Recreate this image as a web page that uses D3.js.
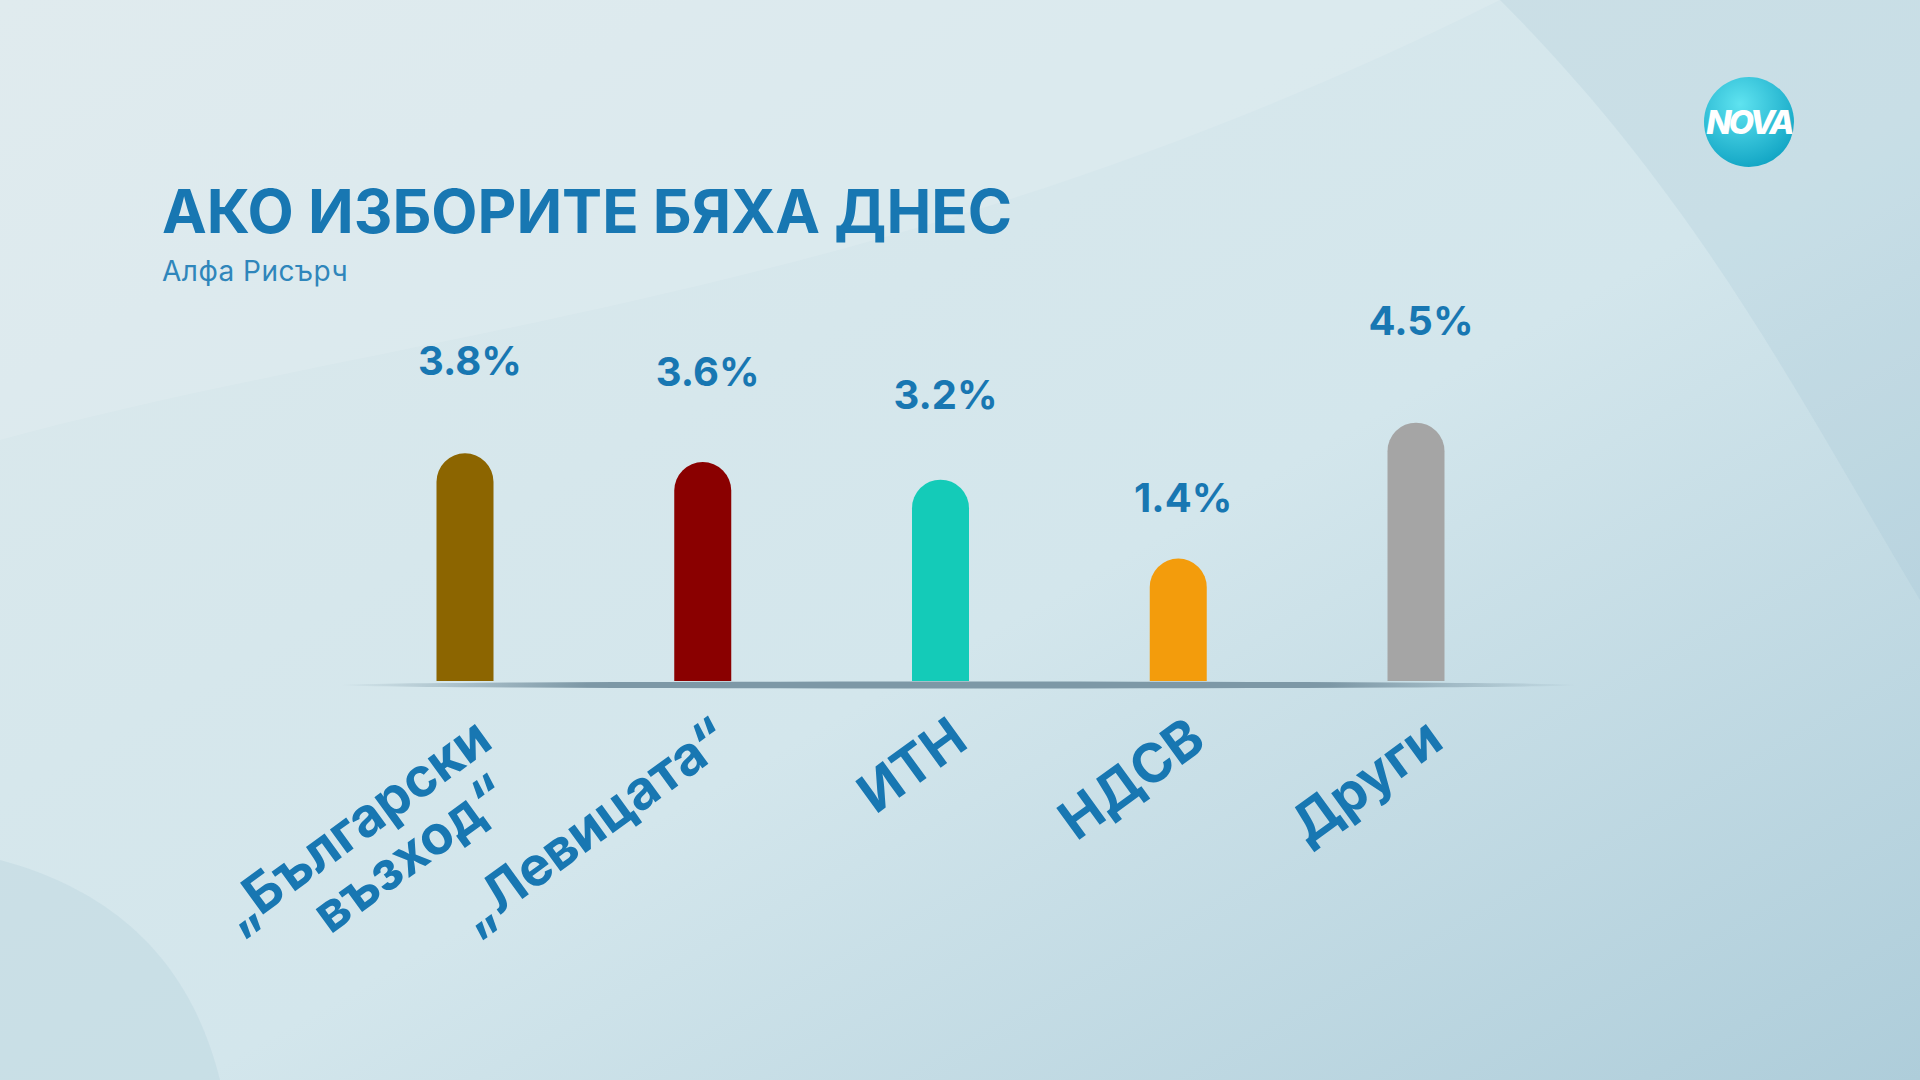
<!DOCTYPE html>
<html><head><meta charset="utf-8">
<script src="https://cdn.jsdelivr.net/npm/d3@7"></script>
<style>body{margin:0;overflow:hidden}svg{display:block}</style>
</head><body>
<svg id="chart" width="1920" height="1080"></svg>
<script>
// data
var parties = [['„Български', 'възход“'], ['„Левицата“'], ['ИТН'], ['НДСВ'], ['Други']];
var values = [3.8, 3.6, 3.2, 1.4, 4.5];
var colors = ['#8c6500', '#8a0000', '#14cbb8', '#f39c0c', '#a5a5a5'];

var svg = d3.select('#chart');
var defs = svg.append('defs');
var bg = defs.append('linearGradient').attr('id', 'bg').attr('x1', 0).attr('y1', 0).attr('x2', 1).attr('y2', 1);
bg.append('stop').attr('offset', 0).attr('stop-color', '#dce9ec');
bg.append('stop').attr('offset', 0.55).attr('stop-color', '#d3e6ec');
bg.append('stop').attr('offset', 1).attr('stop-color', '#aecdda');
svg.append('rect').attr('width', 1920).attr('height', 1080).attr('fill', 'url(#bg)');
// soft swooshes
svg.append('path').attr('d', 'M0,440 C400,330 900,300 1500,0 L0,0 Z').attr('fill', '#ffffff').attr('opacity', 0.12);
svg.append('path').attr('d', 'M0,860 C150,900 200,1000 220,1080 L0,1080 Z').attr('fill', '#9fc3d2').attr('opacity', 0.2);
svg.append('path').attr('d', 'M1920,0 L1920,600 C1800,400 1700,200 1500,0 Z').attr('fill', '#8fb8cc').attr('opacity', 0.15);

var blue = '#1877b2';
svg.append('text').attr('x', 162).attr('y', 233).attr('fill', blue)
  .style('font', '700 60px Inter, "Noto Sans", sans-serif').style('letter-spacing', '0px')
  .text('АКО ИЗБОРИТЕ БЯХА ДНЕС');
svg.append('text').attr('x', 162).attr('y', 281).attr('fill', '#2f86bb')
  .style('font', '400 28px Inter, "Noto Sans", sans-serif').style('letter-spacing', '0.5px').text('Алфа Рисърч');

// logo
var lg = defs.append('radialGradient').attr('id', 'logo').attr('cx', 0.4).attr('cy', 0.3).attr('r', 0.8);
lg.append('stop').attr('offset', 0).attr('stop-color', '#5fe3f0');
lg.append('stop').attr('offset', 1).attr('stop-color', '#0a9fc0');
svg.append('circle').attr('cx', 1749).attr('cy', 122).attr('r', 45).attr('fill', 'url(#logo)');
svg.append('text').attr('x', 1749).attr('y', 134).attr('text-anchor', 'middle').attr('fill', '#fff')
  .style('font', 'italic 800 33px Inter, sans-serif').style('letter-spacing', '-3px').text('NOVA');

var base = 681, k = 1920 / 1568;
var x = d3.scalePoint().domain(d3.range(values.length)).range([465, 1416]);
var y = d3.scaleLinear().domain([1.4, 4.5]).range([base - 100 * k, base - 211 * k]);
var ly = d3.scaleLinear().domain([1.4, 4.5]).range([407 * k, 262 * k]);
var bw = 57;

// baseline
var bl = defs.append('linearGradient').attr('id', 'bl');
bl.append('stop').attr('offset', 0).attr('stop-color', '#7d98a6').attr('stop-opacity', 0);
bl.append('stop').attr('offset', 0.2).attr('stop-color', '#7d98a6');
bl.append('stop').attr('offset', 0.8).attr('stop-color', '#7d98a6');
bl.append('stop').attr('offset', 1).attr('stop-color', '#7d98a6').attr('stop-opacity', 0);
svg.append('ellipse').attr('cx', 783 * k).attr('cy', base + 4).attr('rx', 506 * k).attr('ry', 3.5).attr('fill', 'url(#bl)');

var g = svg.append('g');
g.selectAll('path.bar').data(values).enter().append('path')
  .attr('fill', function(d, i) { return colors[i]; })
  .attr('d', function(d, i) {
    var x0 = x(i) - bw / 2, t = y(d), r = bw / 2;
    return 'M' + x0 + ',' + base + 'V' + (t + r) + 'A' + r + ',' + r + ' 0 0 1 ' + (x0 + bw) + ',' + (t + r) + 'V' + base + 'Z';
  });
g.selectAll('text.val').data(values).enter().append('text')
  .attr('x', function(d, i) { return x(i) + 5; })
  .attr('y', function(d) { return ly(d) + 14; })
  .attr('text-anchor', 'middle').attr('fill', blue)
  .style('font', '700 40px Inter, "Noto Sans", sans-serif')
  .text(function(d) { return d.toFixed(1) + '%'; });

var cats = g.selectAll('g.cat').data(parties).enter().append('g')
  .attr('transform', function(d, i) { return 'translate(' + (x(i) + 30) + ',' + 746 + ') rotate(-36)'; });
cats.each(function(lines) {
  var t = d3.select(this).append('text').attr('text-anchor', 'end').attr('fill', blue)
    .style('font', '700 54px Inter, "Noto Sans", sans-serif');
  lines.forEach(function(s, j) {
    t.append('tspan').attr('x', j ? -20 : 0).attr('dy', j ? 56 : 0).text(s);
  });
});
</script>
</body></html>
